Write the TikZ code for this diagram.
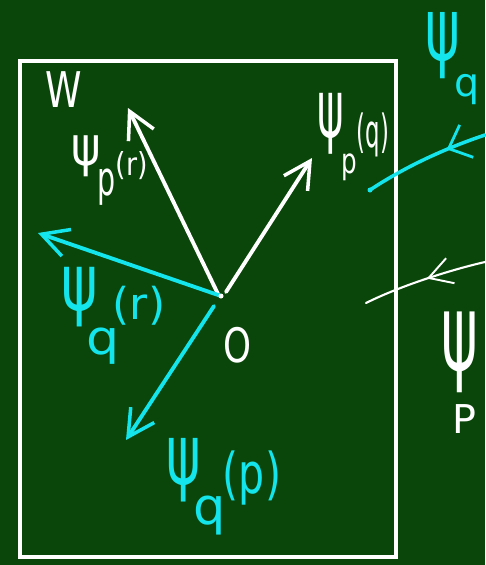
\documentclass[tikz,border=0pt]{standalone}
\usepackage{fontspec}
\setmainfont{DejaVu Sans}
\usetikzlibrary{arrows.meta,decorations.markings}
\definecolor{bg}{RGB}{10,70,10}
\definecolor{cy}{RGB}{20,228,235}
\newcommand{\fsz}[1]{\fontsize{#1}{#1}\selectfont}
\newcommand{\sx}[2]{\scalebox{#1}[1]{#2}}
\tikzset{
  wlab/.style={text=white, inner sep=0pt},
  clab/.style={text=cy, inner sep=0pt},
  vec/.style={line width=2.2pt, line cap=round, -{Straight Barb[length=15pt,width=16pt,line width=2pt]}},
  frame/.style={draw=white, line width=2.6pt},
  flow/.style={line cap=round, postaction={decorate}},
}
\begin{document}
\begin{tikzpicture}[x=0.02cm,y=-0.02cm]
\fill[bg] (0,0) rectangle (485,565);
\useasboundingbox (0,0) rectangle (485,565);
% frame
\draw[frame] (20,61) rectangle (396,557);
% origin and tips
\coordinate (o) at (221,296);
\coordinate (tpr) at (128,108);
\coordinate (tpq) at (312,158);
\coordinate (tqr) at (38,233);
\coordinate (tqp) at (126,440);
\draw[vec, white] ([shift={(-3,-2)}]o) -- (tpr);
\draw[vec, white] ([shift={(5,-4)}]o) -- (tpq);
\draw[vec, cy] (o) -- (tqr);
\draw[vec, cy] ([shift={(-7,10)}]o) -- (tqp);
\fill[white] (o) circle (2.5);
% outside curves
\coordinate (cR) at (485,135);
\coordinate (cL) at (370,190);
\draw[flow, cy, line width=2pt,
  decoration={markings, mark=at position 0.32 with {\arrow{Straight Barb[length=11pt,width=20pt,line width=1.6pt]}}}]
  (cR) .. controls (440,150) and (400,170) .. (cL);
\fill[cy] (cL) circle (2.5);
\coordinate (wR) at (485,262);
\coordinate (wL) at (366,303);
\draw[flow, white, line width=1.2pt,
  decoration={markings, mark=at position 0.48 with {\arrow{Straight Barb[length=13pt,width=15pt,line width=1.1pt]}}}]
  (wR) .. controls (450,270) and (400,286) .. (wL);
% labels
\node[wlab, font=\fsz{28}] (W) at (64,90) {\sx{0.75}{W}};
\node[wlab, font=\fsz{31}] (prpsi) at (86,156) {\sx{0.82}{ψ}};
\node[wlab, font=\fsz{27}] (prp) at (107,187) {\sx{0.6}{p}};
\node[wlab, font=\fsz{18}] (prr) at (132,166) {\sx{0.85}{(r)}};
\node[wlab, font=\fsz{46}] (pqpsi) at (331,124) {\sx{0.5}{ψ}};
\node[wlab, font=\fsz{20}] (pqp) at (349,167) {\sx{0.7}{p}};
\node[wlab, font=\fsz{26}] (pqq) at (373,135) {\sx{0.5}{(q)}};
\node[clab, font=\fsz{50}] (qpsi) at (443,46) {\sx{0.6}{ψ}};
\node[clab, font=\fsz{22.5}] (qq) at (467,90) {q};
\node[clab, font=\fsz{45}] (qrpsi) at (80,297) {\sx{0.7}{ψ}};
\node[clab, font=\fsz{27}] (qrq) at (103,346) {\sx{1.1}{q}};
\node[clab, font=\fsz{25}] (qrr) at (139,306) {(r)};
\node[wlab, font=\fsz{27}] (O) at (237,345) {\sx{0.75}{O}};
\node[clab, font=\fsz{48}] (qppsi) at (184,470) {\sx{0.62}{ψ}};
\node[clab, font=\fsz{29}] (qpq) at (210,516) {q};
\node[clab, font=\fsz{32}] (qpp) at (252,478) {\sx{0.73}{(p)}};
\node[wlab, font=\fsz{61}] (Ppsi) at (460,352) {\sx{0.52}{ψ}};
\node[wlab, font=\fsz{22.6}] (PP) at (464,419) {P};
\end{tikzpicture}
\end{document}
